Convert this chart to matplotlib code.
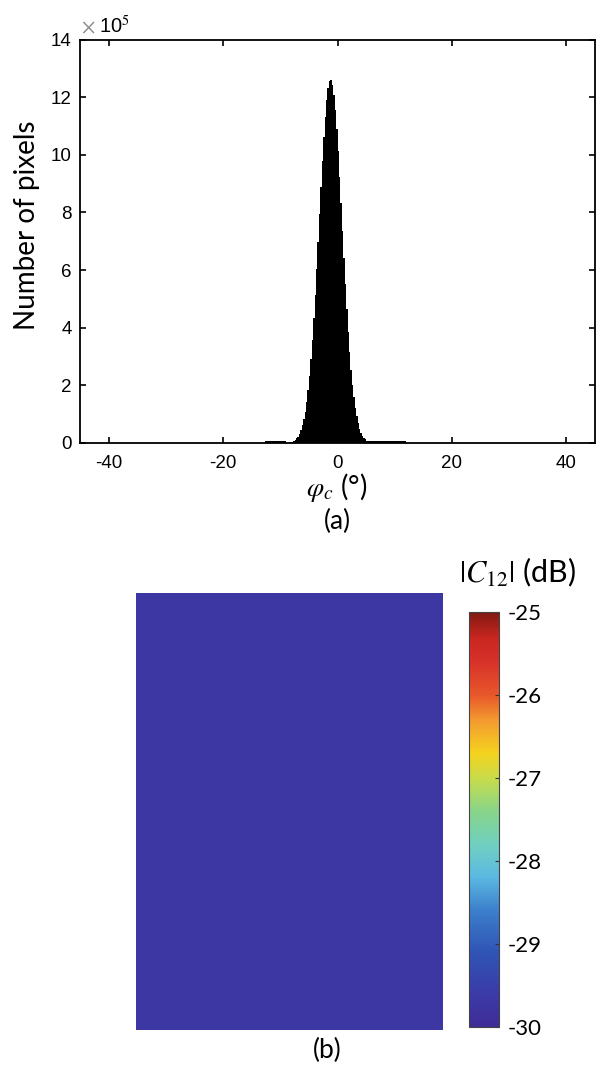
"""
Histogram of phi_c and |C12| map with colorbar.
"""

import numpy as np
import matplotlib.pyplot as plt
from matplotlib.colors import LinearSegmentedColormap

plt.rcParams['axes.unicode_minus'] = False
plt.rcParams['mathtext.fontset'] = 'stix'

# Histogram (a): 0.25 deg bins from -9 to 6.5 plus two wide tail bins,
# counts in units of 1e5 pixels
BIN_EDGES = [-12.75] + list(np.arange(-9.0, 6.51, 0.25)) + [12.0]
COUNTS = [0.06,
          0.008, 0.013, 0.02, 0.031, 0.048, 0.072, 0.107, 0.157,
          0.225, 0.318, 0.443, 0.608, 0.82, 1.09, 1.43, 1.84,
          2.33, 2.91, 3.57, 4.32, 5.15, 6.04, 6.98, 7.93,
          8.87, 9.78, 10.60, 11.32, 11.90, 12.32, 12.55, 12.59,
          12.43, 12.09, 11.57, 10.91, 10.12, 9.24, 8.31, 7.36,
          6.41, 5.50, 4.65, 3.86, 3.16, 2.55, 2.02, 1.58,
          1.22, 0.92, 0.69, 0.50, 0.36, 0.26, 0.18, 0.125,
          0.085, 0.06, 0.06, 0.06, 0.06, 0.06,
          0.06]
X_TICKS = [-40, -20, 0, 20, 40]
Y_TICKS = [0, 2, 4, 6, 8, 10, 12, 14]

# Map (b): |C12| in dB (nearly flat at the bottom of the scale)
C12_DB = [[-29.7, -29.7],
          [-29.7, -29.7]]
CBAR_TICKS = [-30, -29, -28, -27, -26, -25]

CMAP_COLORS = [(0.0, '#3F2C96'), (0.08, '#3B3BA8'), (0.18, '#2F55B5'),
               (0.28, '#3C7FCB'), (0.36, '#5BB8E2'), (0.44, '#70D0C0'),
               (0.52, '#88D48A'), (0.60, '#C8DC4A'), (0.66, '#F5D31F'),
               (0.74, '#F39A30'), (0.80, '#E8582A'), (0.88, '#D8322A'),
               (0.94, '#C82620'), (1.0, '#801A12')]

TICK_FONT = 'Liberation Sans'
LABEL_FONT = 'Lato'


def main():
    W, H = 596, 1067
    fig = plt.figure(figsize=(W / 100, H / 100), dpi=100)

    # (a) histogram
    ax = fig.add_axes([80 / W, 1 - 443 / H, 515 / W, 403.5 / H])
    ax.stairs(COUNTS, BIN_EDGES, fill=True, color='black')
    ax.set_xlim(-45, 45)
    ax.set_ylim(0, 14)
    ax.set_xticks(X_TICKS)
    ax.set_yticks(Y_TICKS)
    ax.tick_params(direction='in', length=4, width=1.2, top=True, right=True,
                   labelsize=13.5)
    ax.tick_params(axis='x', pad=9)
    ax.tick_params(axis='y', pad=6)
    for lab in ax.get_xticklabels() + ax.get_yticklabels():
        lab.set_fontfamily(TICK_FONT)
    for sp in ax.spines.values():
        sp.set_linewidth(1.3)
    ax.text(0.002, 1.004, r'$\times$', transform=ax.transAxes, color='#888888',
            fontsize=15, va='bottom', ha='left')
    ax.text(0.036, 1.004, r'10$^{5}$', transform=ax.transAxes,
            fontsize=14.5, va='bottom', ha='left', family=TICK_FONT)

    fig.text(27 / W, 1 - 225 / H, 'Number of pixels', rotation=90,
             ha='center', va='center', fontsize=20, family=LABEL_FONT)
    fig.text(337 / W, 1 - 488 / H, r'$\varphi_c$ (°)', ha='center',
             va='center', fontsize=20, family=LABEL_FONT)
    fig.text(337 / W, 1 - 521 / H, '(a)', ha='center', va='center',
             fontsize=19, family=LABEL_FONT)

    # (b) map
    cmap = LinearSegmentedColormap.from_list('c12', CMAP_COLORS)
    ax2 = fig.add_axes([136 / W, 1 - 1030 / H, 307 / W, 437 / H])
    im = ax2.imshow(np.array(C12_DB), cmap=cmap, vmin=-30, vmax=-25,
                    aspect='auto', interpolation='nearest')
    ax2.axis('off')

    cax = fig.add_axes([469 / W, 1 - 1027 / H, 30 / W, 415 / H])
    cb = fig.colorbar(im, cax=cax, ticks=CBAR_TICKS)
    cb.ax.tick_params(direction='in', length=3, width=0.8, labelsize=16,
                      pad=6, color='#333333')
    for lab in cb.ax.get_yticklabels():
        lab.set_fontfamily(LABEL_FONT)
    cb.outline.set_linewidth(0.8)
    cb.outline.set_edgecolor('#444444')

    fig.text(517 / W, 1 - 572 / H, r'$|C_{12}|$ (dB)', ha='center',
             va='center', fontsize=22, family=LABEL_FONT)
    fig.text(327 / W, 1 - 1050 / H, '(b)', ha='center', va='center',
             fontsize=19, family=LABEL_FONT)

    fig.savefig('out.png', dpi=100)
    plt.close(fig)


if __name__ == "__main__":
    main()
